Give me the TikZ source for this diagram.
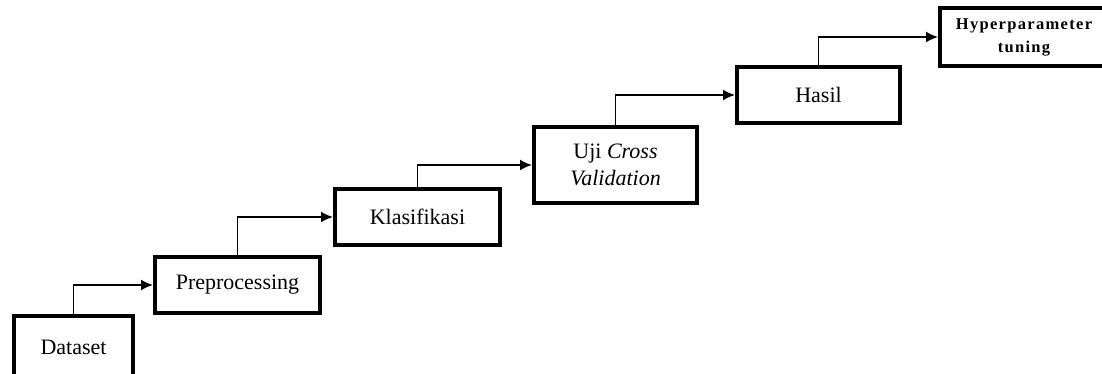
\documentclass[tikz,border=0pt]{standalone}
\usepackage{fontspec}
\setmainfont{Liberation Serif}
\newfontfamily\tuningfont[LetterSpace=8]{Liberation Serif}
\usetikzlibrary{arrows.meta, positioning}
\tikzset{
        block/.style = {draw, rectangle, line width=4pt,
            minimum height=56pt,
            minimum width=165pt,
            inner sep=2pt, align=center,
            font=\fontsize{22}{27}\selectfont},
        smallblock/.style = {block,
            font=\tuningfont\bfseries\fontsize{16.5}{23}\selectfont},
        arrow/.style={draw, line width=1.8pt, -{Latex[length=12pt,width=11pt]}},
}

\begin{document}
\begin{tikzpicture}[x=1pt,y=-1pt]
\useasboundingbox (0,0) rectangle (1102,374);
\node [block, minimum width=119pt, minimum height=62pt] (dataset) at (73.5,347) {Dataset};
\node [block] (preprocessing) at (237.5,285) {Preprocessing};
\node [block] (klasifikasi) at (417.5,217) {Klasifikasi};
\node [block, minimum width=163pt, minimum height=76pt] (uji) at (615.5,165) {Uji \textit{Cross}\\\textit{Validation}};
\node [block, minimum width=163pt] (hasil) at (818.5,95) {Hasil};
\node [smallblock, minimum width=168pt, minimum height=58pt] (tuning) at (1024,37) {Hyperparameter\\tuning};
\draw [arrow] (dataset.north) |- (preprocessing.west);
\draw [arrow] (preprocessing.north) |- (klasifikasi.west);
\draw [arrow] (klasifikasi.north) |- (uji.west);
\draw [arrow] (uji.north) |- (hasil.west);
\draw [arrow] (hasil.north) |- (tuning.west);
\end{tikzpicture}
\end{document}
